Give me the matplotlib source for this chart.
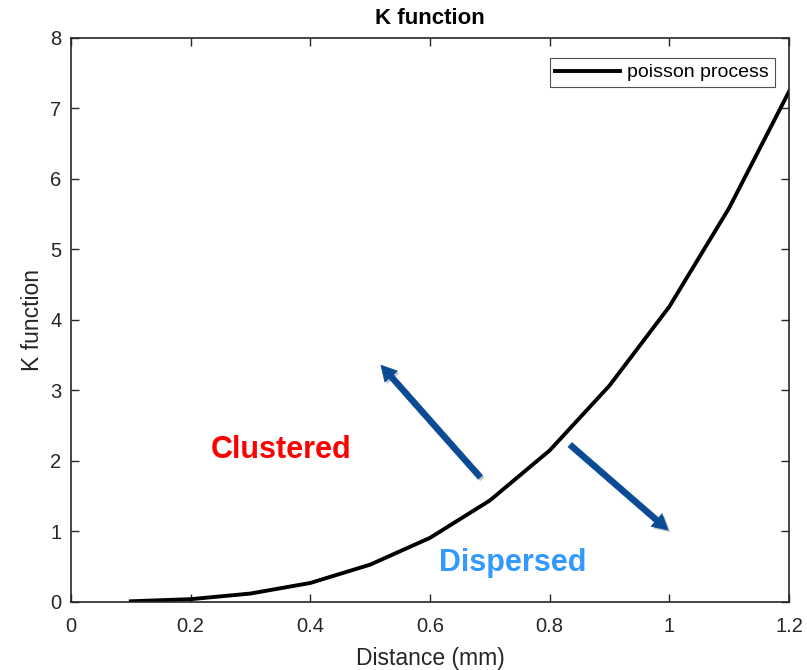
import matplotlib

matplotlib.use("Agg")
import matplotlib.pyplot as plt
import matplotlib.patheffects as pe

plt.rcParams["font.family"] = ["Liberation Sans", "DejaVu Sans"]

INK = "#262626"
ARROW = "#0b4a94"

distance = [0.1, 0.2, 0.3, 0.4, 0.5, 0.6, 0.7, 0.8, 0.9, 1.0, 1.1, 1.2]
k_value = [0.01, 0.04, 0.12, 0.27, 0.53, 0.91, 1.44, 2.15, 3.07, 4.19, 5.59, 7.24]

x_ticks = [0, 0.2, 0.4, 0.6, 0.8, 1, 1.2]
x_tick_labels = ["0", "0.2", "0.4", "0.6", "0.8", "1", "1.2"]
y_ticks = [0, 1, 2, 3, 4, 5, 6, 7, 8]

# annotation arrows: (start, tip) in data units
clustered_arrow = ((0.684, 1.77), (0.518, 3.36))
dispersed_arrow = ((0.834, 2.23), (0.998, 1.02))


def main() -> None:
    fig = plt.figure(figsize=(8.07, 6.70), dpi=100, facecolor="white")
    ax = fig.add_axes([0.088, 0.1015, 0.8897, 0.8418])

    ax.plot(distance, k_value, color="black", lw=2.8, label="poisson process")

    ax.set_xlim(0, 1.2)
    ax.set_ylim(0, 8)
    ax.set_xticks(x_ticks)
    ax.set_xticklabels(x_tick_labels)
    ax.set_yticks(y_ticks)
    ax.tick_params(direction="in", length=6, width=1, colors=INK, labelsize=14.5,
                   top=True, right=True)
    ax.tick_params(axis="x", pad=11)
    ax.tick_params(axis="y", pad=7)
    for s in ax.spines.values():
        s.set_color(INK)
        s.set_linewidth(1.2)

    ax.set_xlabel("Distance (mm)", fontsize=16.5, color=INK, labelpad=8)
    ax.set_ylabel("K function", fontsize=16.5, color=INK, labelpad=4)
    ax.set_title("K function", fontsize=16, fontweight="bold", color="black", pad=10)

    leg = ax.legend(loc="upper right", fontsize=14, frameon=True, fancybox=False,
                    edgecolor=INK, borderpad=0.3, handlelength=3.3, handletextpad=0.4,
                    borderaxespad=0, bbox_to_anchor=(0.9805, 0.9645))
    leg.get_frame().set_linewidth(0.8)

    shadow = [pe.SimplePatchShadow(offset=(1.5, -1.5), alpha=0.25), pe.Normal()]
    for (x0, y0), (x1, y1) in (clustered_arrow, dispersed_arrow):
        ann = ax.annotate("", xy=(x1, y1), xytext=(x0, y0),
                          arrowprops=dict(width=4.2, headwidth=12, headlength=11,
                                          facecolor=ARROW, edgecolor=ARROW, lw=0.5,
                                          shrink=0))
        ann.arrow_patch.set_path_effects(shadow)

    ax.text(0.351, 2.16, "Clustered", color="#ff0000", fontsize=22,
            fontweight="bold", ha="center", va="center")
    ax.text(0.739, 0.55, "Dispersed", color="#3399ff", fontsize=22,
            fontweight="bold", ha="center", va="center")

    fig.savefig("out.png", dpi=100, facecolor="white")


if __name__ == "__main__":
    main()
